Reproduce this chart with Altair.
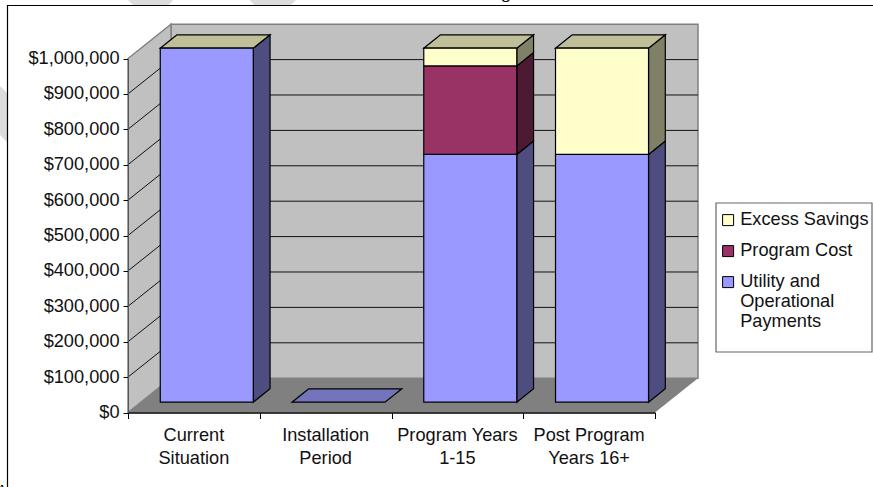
import altair as alt
import pandas as pd

# Chart values
categories = ["Current\nSituation", "Installation\nPeriod", "Program Years\n1-15", "Post Program\nYears 16+"]
utility = [1000000, 0, 700000, 700000]
program = [0, 0, 250000, 0]
excess = [0, 0, 50000, 300000]
series_names = ["Excess Savings", "Program Cost", "Utility and|Operational|\u00a0Payments"]
series_front = ["#ffffcc", "#993366", "#9999ff"]
series_side = ["#808066", "#4d1a33", "#4d4d80"]
top_colors = ["#bfbf99", "#7474bc", "#bfbf99", "#bfbf99"]
y_ticks = list(range(0, 1000001, 100000))

# Oblique projection of the 3-D box: full depth in data units
DX = 0.3264
DY = 96900
NEAR, FAR = 0.30, 0.69
HALF = 0.353

x_scale = alt.Scale(domain=[0, 4], range=[128, 655], nice=False, zero=False)
y_scale = alt.Scale(domain=[0, 1000000], range=[412.5, 58.5], nice=False, zero=False)


def X(field="x", axis=alt.Undefined):
    return alt.X(f"{field}:Q", scale=x_scale, axis=axis, title=None)


def Y(field="y", axis=alt.Undefined):
    return alt.Y(f"{field}:Q", scale=y_scale, axis=axis, title=None)


# Page furniture: faint diagonal bands behind a white framed panel
def band(x0, y0, x1, y1, w):
    return alt.Chart(pd.DataFrame({"a": [0]})).mark_rule(color="#dcdcdc", strokeWidth=w).encode(
        x=alt.value(x0), x2=alt.value(x1), y=alt.value(y0), y2=alt.value(y1)
    )


bands = [band(132.5, -20, 163, 10.5, 34.6), band(254, -20, 285, 11, 34.6), band(-20, 90.5, 20, 130.5, 34.6)]
frame = alt.Chart(pd.DataFrame({"a": [0]})).mark_rect(fill="white", stroke="black", strokeWidth=1.2).encode(
    x=alt.value(7.5), x2=alt.value(900), y=alt.value(5.5), y2=alt.value(520)
)

# Chart walls and floor
back_wall = alt.Chart(pd.DataFrame({"x": [DX], "x2": [4 + DX], "y": [DY], "y2": [1000000 + DY]})).mark_rect(
    fill="#c0c0c0", stroke="#808080", strokeWidth=1.5
).encode(x=X(), x2="x2:Q", y=Y(), y2="y2:Q")
left_wall = alt.Chart(pd.DataFrame({"x": [0, DX], "y": [0, DY], "y2": [1000000, 1000000 + DY]})).mark_area(
    fill="#c0c0c0", stroke="#808080", strokeWidth=1.5
).encode(x=X(), y=Y(), y2="y2:Q")
floor = alt.Chart(pd.DataFrame({"y": [0, DY], "x": [0, DX], "x2": [4, 4 + DX]})).mark_area(
    fill="#808080", orient="horizontal"
).encode(y=Y(), x=X(), x2="x2:Q")

# Gridlines across the back wall and along the left wall
grid_rows = [v for v in y_ticks if 0 < v < 1000000]
grid_back = alt.Chart(pd.DataFrame({"x": DX, "x2": 4 + DX, "y": [v + DY for v in grid_rows]})).mark_rule(
    color="#111111", strokeWidth=1
).encode(x=X(), x2="x2:Q", y=Y())
grid_left = alt.Chart(pd.DataFrame({"x": 0.0, "x2": DX, "y": grid_rows, "y2": [v + DY for v in grid_rows]})).mark_rule(
    color="#111111", strokeWidth=1
).encode(x=X(), x2="x2:Q", y=Y(), y2="y2:Q")

# Box faces built from the stacked values
front_rows, side_rows, top_rows = [], [], []
for i, stack in enumerate(zip(utility, program, excess)):
    cx = i + 0.5
    left = cx - HALF + NEAR * DX
    right = cx + HALF + NEAR * DX
    base = 0
    for j, value in zip([2, 1, 0], stack):
        if value > 0:
            lo, hi = base, base + value
            front_rows.append({
                "x": left, "x2": right,
                "y": lo + NEAR * DY, "y2": hi + NEAR * DY,
                "series": series_names[j],
            })
            for d in (NEAR, FAR):
                side_rows.append({
                    "x": cx + HALF + d * DX,
                    "y": lo + d * DY, "y2": hi + d * DY,
                    "key": f"{i}-{j}", "fill": series_side[j],
                })
        base += value
    for d in (NEAR, FAR):
        top_rows.append({
            "y": base + d * DY,
            "x": cx - HALF + d * DX, "x2": cx + HALF + d * DX,
            "key": str(i), "fill": top_colors[i],
        })

sides = alt.Chart(pd.DataFrame(side_rows)).mark_area(stroke="black", strokeWidth=1.2).encode(
    x=X(), y=Y(), y2="y2:Q", detail="key:N", fill=alt.Fill("fill:N", scale=None)
)
tops = alt.Chart(pd.DataFrame(top_rows)).mark_area(stroke="black", strokeWidth=1.2, orient="horizontal").encode(
    y=Y(), x=X(), x2="x2:Q", detail="key:N", fill=alt.Fill("fill:N", scale=None)
)
fronts = alt.Chart(pd.DataFrame(front_rows)).mark_rect(stroke="black", strokeWidth=1.2).encode(
    x=X(), x2="x2:Q", y=Y(), y2="y2:Q",
    color=alt.Color(
        "series:N",
        scale=alt.Scale(domain=series_names, range=series_front),
        sort=series_names,
        legend=alt.Legend(
            title=None, orient="none", legendX=719, legendY=211,
            symbolType="square", symbolSize=121, symbolStrokeColor="black", symbolStrokeWidth=1,
            labelFont="Liberation Sans", labelFontSize=18.2, labelColor="#111111", labelLimit=300,
            labelOffset=3, labelExpr="split(datum.label, '|')",
            padding=0, rowPadding=12,
        ),
    ),
)

# Box around the legend
legend_box = alt.Chart(pd.DataFrame({"a": [0]})).mark_rect(fill="white", stroke="#666666", strokeWidth=1.2).encode(
    x=alt.value(716), x2=alt.value(872), y=alt.value(203), y2=alt.value(352)
)

# Axes on the front edges of the floor and left wall
axes = alt.Chart(pd.DataFrame({"x": [0, 4], "y": [0, 1000000]})).mark_point(opacity=0).encode(
    x=X(axis=alt.Axis(values=[0, 1, 2, 3, 4], labels=False, orient="bottom", offset=-74.5, tickSize=6,
                      tickColor="black", domainColor="black", domainWidth=1.5, grid=False, zindex=1)),
    y=Y(axis=alt.Axis(values=y_ticks, format="$,.0f", orient="left", offset=-128, tickSize=5, labelPadding=4,
                      labelFont="Liberation Sans", labelFontSize=18.2, labelColor="#111111",
                      tickColor="black", domainColor="#555555", grid=False, zindex=1)),
)

cat_labels = alt.Chart(pd.DataFrame({"x": [i + 0.5 for i in range(4)], "label": categories})).mark_text(
    font="Liberation Sans", fontSize=18.2, color="#111111", lineBreak="\n", lineHeight=23,
    align="center", baseline="alphabetic",
).encode(x=X(), y=alt.value(441), text="label:N")

# Heading and caption running off the page edges
heading = alt.Chart(pd.DataFrame({"t": ["Savings"]})).mark_text(
    font="Liberation Serif", fontWeight="bold", fontSize=16, align="right", baseline="alphabetic", color="black"
).encode(x=alt.value(516), y=alt.value(-2), text="t:N")
caption = alt.Chart(pd.DataFrame({"t": ["A"]})).mark_text(
    font="Liberation Serif", fontSize=16, align="center", baseline="alphabetic", color="black"
).encode(x=alt.value(2), y=alt.value(496), text="t:N")

chart = alt.layer(
    axes, *bands, frame, heading, caption, back_wall, left_wall, floor, grid_back, grid_left,
    sides, tops, fronts, legend_box, cat_labels
).properties(
    width=873, height=487, padding=0, autosize=alt.AutoSizeParams(type="none"), background="white"
).resolve_scale(fill="independent").configure_view(stroke=None)

chart.save("out.html", embed_options={"renderer": "svg", "actions": False})
